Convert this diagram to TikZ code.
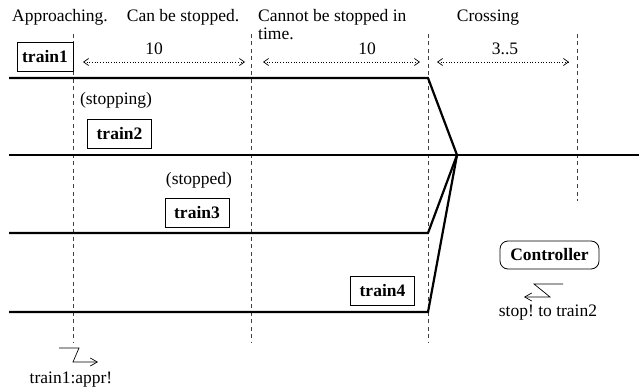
\documentclass[tikz,border=0pt]{standalone}
\usepackage{fontspec}
\setmainfont{Liberation Serif}
\usetikzlibrary{arrows.meta}

\tikzset{
  track/.style={line width=2.2pt},
  border/.style={black!75,line width=0.8pt,dash pattern=on 4pt off 3.5pt},
  span/.style={dotted,line width=0.7pt,
    {Straight Barb[length=5pt,width=7pt]}-{Straight Barb[length=5pt,width=7pt]}},
  train/.style={draw,line width=0.8pt,font=\bfseries,minimum width=64pt,
    minimum height=29pt,inner sep=0pt},
  txt/.style={anchor=base,inner sep=0pt},
  sig/.style={line width=0.7pt},
}

\begin{document}
\frenchspacing
\fontsize{17.5}{17.5}\selectfont
\begin{tikzpicture}[x=1pt,y=-1pt]
  \useasboundingbox (0,0) rectangle (639,390);

  %% phases
  \node[txt] (approach) at (60,21.5) {Approaching.};
  \node[txt] (canstop) at (183,21.5) {Can be stopped.};
  \node[anchor=north west,inner sep=0pt,align=left] (cannot) at (258,9.3)
    {Cannot be stopped in\\time.};
  \node[txt] (crossing) at (488,21.5) {Crossing};

  %% phase borders
  \foreach \name/\x/\y in {b1/73/343, b2/251/343, b3/428/343, b4/577/201} {
    \coordinate (\name top) at (\x,34);
    \coordinate (\name bot) at (\x,\y);
    \draw[border] (\name top) -- (\name bot);
  }

  %% durations
  \coordinate (d1a) at (83,62);  \coordinate (d1b) at (245,62);
  \coordinate (d2a) at (263,62); \coordinate (d2b) at (420,62);
  \coordinate (d3a) at (437,62); \coordinate (d3b) at (569,62);
  \draw[span] (d1a) -- (d1b);
  \draw[span] (d2a) -- (d2b);
  \draw[span] (d3a) -- (d3b);
  \node[txt] (dur1) at (154,55) {10};
  \node[txt] (dur2) at (367,55) {10};
  \node[txt] (dur3) at (505,55) {3..5};

  %% tracks
  \coordinate (cross) at (457,155);
  \coordinate (mainw) at (9,155);
  \coordinate (maine) at (639,155);
  \draw[track] (mainw) -- (maine);
  \foreach \i/\y in {1/78, 3/233, 4/312} {
    \coordinate (t\i w) at (9,\y);
    \coordinate (t\i e) at (428,\y);
    \draw[track,line join=miter] (t\i w) -- (t\i e) -- (cross);
  }

  %% trains
  \node[train,minimum width=56pt] (train1) at (45,56.5) {train1};
  \node[txt] (stopping) at (116,105) {(stopping)};
  \node[train] (train2) at (119.5,134) {train2};
  \node[txt] (stopped) at (199,184) {(stopped)};
  \node[train] (train3) at (197,212.5) {train3};
  \node[train] (train4) at (382.5,290.5) {train4};

  %% controller
  \node[draw,line width=0.8pt,rounded corners=8pt,font=\bfseries,
    minimum width=99pt,minimum height=28pt,inner sep=0pt] (ctrl) at (549.5,255) {Controller};

  %% signals
  \coordinate (s1a) at (563,284); \coordinate (s1b) at (534,284);
  \coordinate (s1c) at (550,297); \coordinate (s1d) at (524,297);
  \draw[sig,-{Straight Barb[length=7pt,width=8pt]}] (s1a) -- (s1b) -- (s1c) -- (s1d);
  \node[txt] (stopmsg) at (548,316) {stop! to train2};

  \coordinate (s2a) at (59,348); \coordinate (s2b) at (79,348);
  \coordinate (s2c) at (73,362); \coordinate (s2d) at (98,362);
  \draw[sig,-{Straight Barb[length=7pt,width=8pt]}] (s2a) -- (s2b) -- (s2c) -- (s2d);
  \node[txt] (apprmsg) at (71,383) {train1:appr!};
\end{tikzpicture}
\end{document}
